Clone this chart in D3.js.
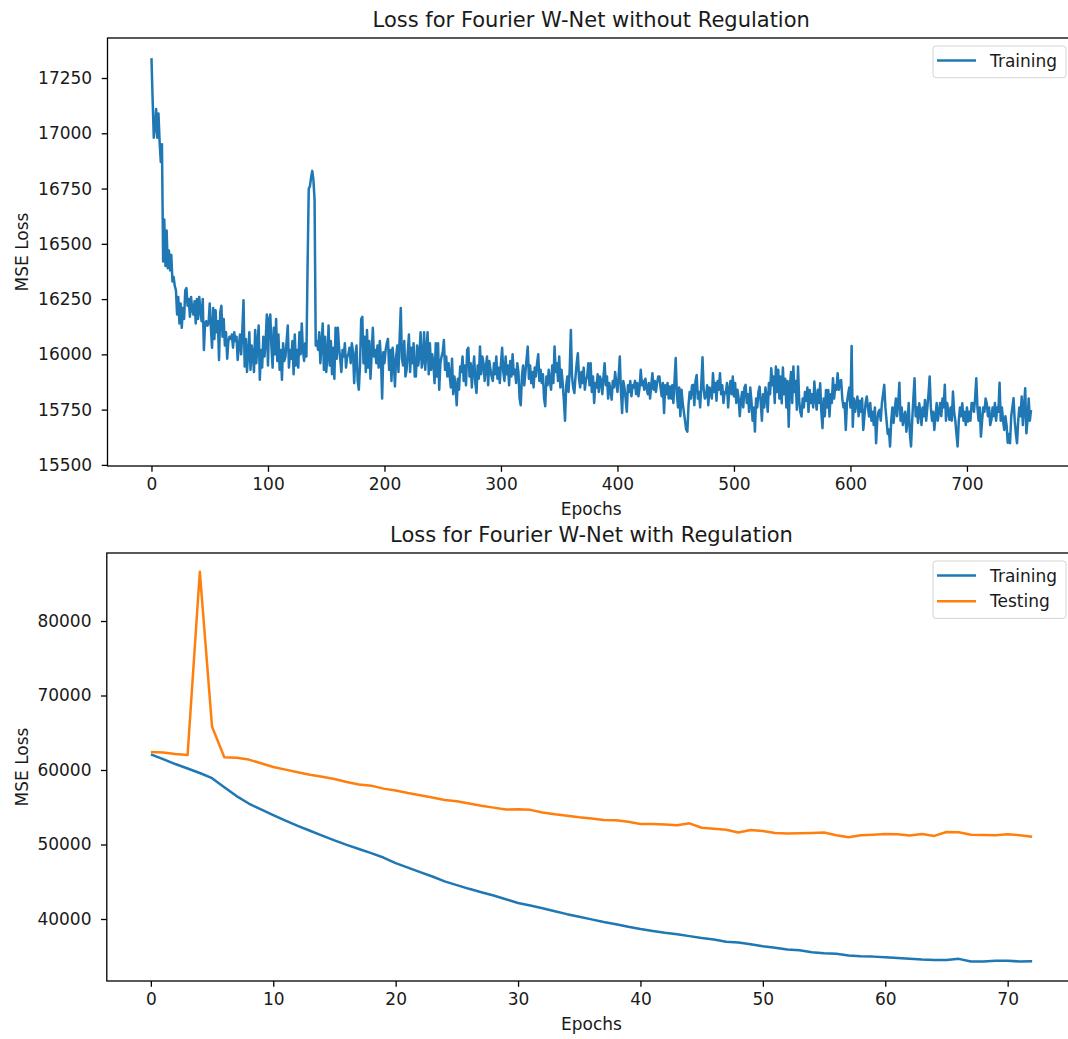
<!DOCTYPE html>
<html>
<head>
<meta charset="utf-8">
<script src="https://cdn.jsdelivr.net/npm/d3@7"></script>
<style>
  body { margin: 0; background: #fff; }
  svg { display: block; font-family: "DejaVu Sans", sans-serif; }
</style>
</head>
<body>
<div id="chart"></div>
<script>
// training loss per epoch, W-Net without regulation
const lossNoReg = [
  17340, 17150, 16980, 17030, 17110, 16980, 17090, 16960, 16870, 16950,
  16420, 16610, 16400, 16560, 16390, 16470, 16380, 16450, 16330, 16350,
  16310, 16290, 16180, 16260, 16140, 16230, 16120, 16210, 16160, 16290,
  16300, 16220, 16250, 16170, 16260, 16200, 16180, 16240, 16140, 16250,
  16160, 16260, 16200, 16150, 16250, 16020, 16140, 16150, 16130, 16140,
  16230, 16120, 16030, 16210, 16070, 16200, 16100, 16150, 15975, 16190,
  16220, 16080, 16160, 16040, 16100, 15980, 16060, 16080, 16070, 16090,
  16030, 16100, 16060, 16080, 15975, 16040, 16090, 16000, 16110, 16245,
  15945, 16070, 15920, 16010, 16100, 15930, 16040, 16000, 15920, 16110,
  15960, 16050, 16130, 15885, 16020, 15940, 16080, 15990, 16060, 16180,
  // 100
  15950, 16160, 16180, 16030, 15940, 16120, 16000, 16160, 15970, 16090,
  15930, 16020, 15885, 16050, 15970, 15990, 16060, 16130, 15940, 16020,
  15980, 16060, 15910, 16090, 15950, 16020, 15940, 16100, 16000, 16140,
  16020, 15970, 16050, 15990, 16400, 16750, 16760, 16800, 16830, 16790,
  16700, 16040, 16060, 16020, 16100, 15960, 16050, 16140, 15930, 16080,
  15920, 15990, 16130, 15950, 16060, 15910, 16030, 15890, 16120, 15980,
  16120, 16030, 15980, 15920, 16020, 15990, 16050, 15940, 15990, 16000,
  16030, 15960, 16050, 16010, 15870, 15990, 16040, 15880, 15840, 15950,
  16160, 16170, 15960, 16080, 15920, 16110, 15940, 16060, 15890, 16000,
  16120, 15990, 16020, 15960, 16040, 15940, 16060, 15980, 15800, 16010,
  // 200
  15960, 16020, 16050, 16070, 15930, 16020, 15880, 16030, 15960, 15855,
  15990, 16040, 15920, 16070, 16210, 15980, 15950, 16060, 15900, 15930,
  16010, 16090, 15920, 16030, 15960, 16050, 15900, 15900, 16040, 15950,
  16000, 16100, 15940, 15970, 16100, 15930, 16020, 16100, 15910, 16050,
  15930, 16000, 15960, 15870, 16050, 15900, 16050, 15840, 15960, 15990,
  16010, 16065, 15930, 15990, 15900, 15960, 15900, 15850, 15980, 15820,
  15900, 15860, 15770, 15890, 15840, 15945, 15920, 15990, 15880, 15950,
  15860, 16020, 16030, 15900, 15960, 15850, 15930, 15990, 15870, 15825,
  15950, 15890, 16035, 15910, 15990, 15960, 15880, 15940, 15990, 15860,
  15970, 15930, 15900, 15880, 15960, 15910, 15990, 15890, 15940, 15870,
  // 300
  15960, 16030, 15920, 15880, 15990, 15910, 15950, 15860, 15970, 15900,
  16000, 15910, 15930, 15870, 15960, 15920, 15800, 15770, 15900, 15950,
  15860, 15920, 15980, 16035, 15890, 15950, 15870, 15920, 15850, 15940,
  15900, 15960, 16000, 15880, 15930, 15870, 15910, 15800, 15765, 15900,
  15860, 15930, 15880, 15840, 15950, 15870, 16035, 15920, 15960, 15880,
  15990, 15850, 15930, 15870, 15790, 15700, 15860, 15900, 15830, 15930,
  16110, 15900, 15850, 15825, 15900, 15960, 16005, 15890, 15850, 15920,
  15870, 15940, 15840, 15885, 15900, 15960, 15860, 15960, 15830, 15900,
  15780, 15870, 15850, 15910, 15830, 15900, 15880, 15820, 15900, 15960,
  15860, 15900, 15800, 15870, 15840, 15795, 15880, 15850, 15920, 15870,
  // 400
  15830, 15900, 15990, 15830, 15735, 15880, 15850, 15800, 15740, 15860,
  15830, 15880, 15810, 15860, 15850, 15880, 15820, 15870, 15810, 15850,
  15930, 15860, 15880, 15840, 15890, 15850, 15820, 15870, 15800, 15860,
  15915, 15840, 15880, 15830, 15870, 15900, 15900, 15850, 15810, 15870,
  15735, 15860, 15820, 15870, 15800, 15855, 15800, 15860, 15780, 15880,
  15983, 15820, 15760, 15850, 15720, 15840, 15780, 15740, 15700, 15660,
  15650, 15770, 15830, 15800, 15860, 15862, 15770, 15880, 15907, 15800,
  15830, 15760, 15870, 15987, 15840, 15800, 15810, 15860, 15770, 15850,
  15840, 15800, 15915, 15830, 15870, 15790, 15880, 15840, 15915, 15820,
  15860, 15780, 15830, 15824, 15870, 15760, 15840, 15880, 15820, 15900,
  // 500
  15810, 15870, 15780, 15840, 15800, 15720, 15790, 15830, 15760, 15850,
  15862, 15780, 15820, 15740, 15850, 15790, 15700, 15760, 15651, 15800,
  15760, 15830, 15854, 15780, 15700, 15820, 15760, 15850, 15809, 15740,
  15870, 15820, 15937, 15860, 15900, 15780, 15945, 15830, 15930, 15800,
  15900, 15779, 15940, 15820, 15890, 15760, 15880, 15673, 15860, 15920,
  15780, 15945, 15830, 15880, 15750, 15945, 15790, 15740, 15719, 15800,
  15760, 15830, 15790, 15850, 15740, 15839, 15780, 15820, 15760, 15877,
  15800, 15750, 15840, 15780, 15869, 15740, 15666, 15800, 15720, 15839,
  15760, 15839, 15719, 15820, 15780, 15892, 15800, 15860, 15840, 15915,
  15840, 15880, 15884, 15800, 15760, 15779, 15658, 15780, 15820, 15850,
  // 600
  15760, 16038, 15673, 15800, 15740, 15780, 15809, 15720, 15790, 15740,
  15800, 15658, 15720, 15780, 15809, 15760, 15719, 15780, 15700, 15740,
  15680, 15760, 15598, 15700, 15740, 15749, 15700, 15780, 15820, 15862,
  15760, 15700, 15640, 15660, 15583, 15700, 15760, 15690, 15749, 15800,
  15720, 15780, 15872, 15700, 15760, 15680, 15719, 15740, 15650, 15700,
  15780, 15640, 15583, 15700, 15800, 15892, 15720, 15760, 15690, 15779,
  15740, 15680, 15760, 15720, 15794, 15700, 15760, 15820, 15900, 15760,
  15700, 15740, 15658, 15720, 15780, 15700, 15741, 15780, 15720, 15800,
  15760, 15862, 15700, 15780, 15740, 15704, 15760, 15700, 15832, 15740,
  15700, 15640, 15583, 15700, 15760, 15720, 15779, 15700, 15740, 15680,
  // 700
  15760, 15696, 15740, 15700, 15780, 15779, 15740, 15800, 15892, 15760,
  15700, 15760, 15628, 15700, 15760, 15740, 15800, 15779, 15720, 15760,
  15680, 15704, 15760, 15720, 15780, 15700, 15760, 15740, 15872, 15700,
  15760, 15700, 15658, 15720, 15680, 15600, 15640, 15598, 15720, 15760,
  15802, 15700, 15640, 15598, 15700, 15760, 15720, 15809, 15680, 15760,
  15847, 15643, 15700, 15800, 15700, 15749
];

// W-Net with regulation
const trainReg = [
  62100, 61450, 60800, 60200, 59600, 58900, 57700, 56500, 55500, 54700,
  53950, 53200, 52500, 51850, 51200, 50550, 49950, 49400, 48850, 48250,
  47500, 46900, 46300, 45700, 45050, 44550, 44050, 43600, 43150, 42650,
  42150, 41800, 41450, 41050, 40650, 40300, 39950, 39600, 39300, 38950,
  38650, 38400, 38150, 37950, 37700, 37450, 37250, 36950, 36850, 36600,
  36350, 36150, 35900, 35800, 35550, 35400, 35350, 35100, 35000, 34950,
  34850, 34750, 34650, 34550, 34500, 34500, 34650, 34300, 34300, 34400,
  34380, 34300, 34320
];
const testReg = [
  62400, 62350, 62150, 62000, 86600, 65800, 61700, 61650, 61400, 60900,
  60400, 60050, 59700, 59350, 59100, 58800, 58400, 58050, 57900, 57500,
  57250, 56900, 56600, 56300, 55980, 55800, 55500, 55200, 54950, 54700,
  54720, 54650, 54300, 54050, 53850, 53650, 53500, 53300, 53250, 53050,
  52750, 52750, 52700, 52570, 52840, 52250, 52100, 51980, 51600, 51950,
  51800, 51550, 51480, 51500, 51550, 51620, 51250, 50960, 51250, 51320,
  51400, 51380, 51200, 51400, 51150, 51680, 51650, 51300, 51280, 51250,
  51360, 51250, 51050
];

const topXTicks = [0, 100, 200, 300, 400, 500, 600, 700];
const topYTicks = [15500, 15750, 16000, 16250, 16500, 16750, 17000, 17250];
const botXTicks = [0, 10, 20, 30, 40, 50, 60, 70];
const botYTicks = [40000, 50000, 60000, 70000, 80000];

const blue = "#1f77b4", orange = "#ff7f0e";
const textCol = "#1a1a1a";
const fs = 17;

const svg = d3.select("#chart").append("svg")
  .attr("width", 1068)
  .attr("height", 1039);

function panel(o) {
  const x = d3.scaleLinear().domain(o.xDomain).range(o.xRange);
  const y = d3.scaleLinear().domain(o.yDomain).range(o.yRange);
  const [left, right] = o.xRange;
  const [bottom, top] = o.yRange;
  const g = svg.append("g");

  const xAxis = g.append("g")
    .attr("transform", `translate(0,${bottom})`)
    .call(d3.axisBottom(x).tickValues(o.xTicks).tickSize(5.8).tickPadding(5.8).tickFormat(d3.format("d")));
  const yAxis = g.append("g")
    .attr("transform", `translate(${left},0)`)
    .call(d3.axisLeft(y).tickValues(o.yTicks).tickSize(5.8).tickPadding(9.5).tickFormat(d3.format("d")));
  [xAxis, yAxis].forEach(a => {
    a.select(".domain").remove();
    a.selectAll("line").attr("stroke", "#000").attr("stroke-width", 1.3);
    a.selectAll("text").attr("fill", textCol).style("font-size", fs + "px")
      .style("font-family", "DejaVu Sans, sans-serif");
  });

  const line = d3.line().x((d, i) => x(i)).y(d => y(d));
  o.series.forEach(s => {
    g.append("path")
      .datum(s.values)
      .attr("fill", "none")
      .attr("stroke", s.color)
      .attr("stroke-width", 2.5)
      .attr("stroke-linejoin", "round")
      .attr("d", line);
  });

  // frame
  g.append("rect")
    .attr("x", left).attr("y", top)
    .attr("width", right - left).attr("height", bottom - top)
    .attr("fill", "none").attr("stroke", "#000").attr("stroke-width", 1.3);

  g.append("text")
    .attr("x", (left + right) / 2).attr("y", top - 11)
    .attr("text-anchor", "middle").attr("fill", textCol)
    .style("font-size", "21px")
    .text(o.title);

  g.append("text")
    .attr("x", (left + right) / 2).attr("y", bottom + 48.5)
    .attr("text-anchor", "middle").attr("fill", textCol)
    .style("font-size", fs + "px")
    .text("Epochs");

  g.append("text")
    .attr("transform", `translate(28,${(top + bottom) / 2}) rotate(-90)`)
    .attr("text-anchor", "middle").attr("fill", textCol)
    .style("font-size", fs + "px")
    .text("MSE Loss");

  // legend, upper right
  const lg = g.append("g").attr("transform", `translate(933,${top + 8})`);
  lg.append("rect")
    .attr("width", 133).attr("height", 6 + o.series.length * 25.7)
    .attr("rx", 3)
    .attr("fill", "#fff").attr("fill-opacity", 0.8)
    .attr("stroke", "#d4d4d4").attr("stroke-width", 1);
  o.series.forEach((s, i) => {
    const ly = 14.5 + i * 25.7;
    lg.append("line")
      .attr("x1", 4).attr("x2", 43).attr("y1", ly).attr("y2", ly)
      .attr("stroke", s.color).attr("stroke-width", 2.5);
    lg.append("text")
      .attr("x", 57).attr("y", ly).attr("dy", "0.36em")
      .attr("fill", textCol).style("font-size", fs + "px")
      .text(s.name);
  });
}

panel({
  title: "Loss for Fourier W-Net without Regulation",
  xDomain: [-37.75, 792.75], xRange: [107.5, 1075],
  yDomain: [15495, 17431], yRange: [466, 38],
  xTicks: topXTicks, yTicks: topYTicks,
  series: [{ name: "Training", values: lossNoReg, color: blue }]
});

panel({
  title: "Loss for Fourier W-Net with Regulation",
  xDomain: [-3.6, 75.6], xRange: [106.8, 1076.2],
  yDomain: [31678, 89128], yRange: [981, 553],
  xTicks: botXTicks, yTicks: botYTicks,
  series: [
    { name: "Training", values: trainReg, color: blue },
    { name: "Testing", values: testReg, color: orange }
  ]
});
</script>
</body>
</html>
